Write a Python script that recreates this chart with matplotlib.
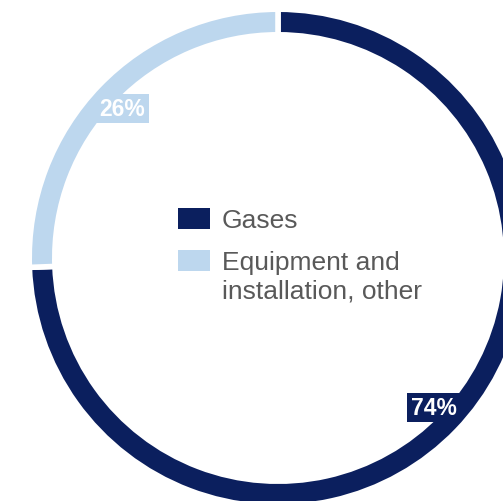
import matplotlib
matplotlib.use('Agg')
import matplotlib.pyplot as plt

# revenue split (values estimated from the ring, labels rounded)
labels = ['Gases', 'Equipment and\ninstallation, other']
shares = [74.4, 25.6]
colors = ['#0b1f5e', '#bdd7ee']

plt.rcParams['font.family'] = ['Liberation Sans', 'DejaVu Sans']

W, H = 503, 502
fig = plt.figure(figsize=(W / 100, H / 100), dpi=100)

# ring centre at (278, 259) px, outer radius 246 px -> runs past right/bottom edges
R = 246
ax = fig.add_axes([(278 - R) / W, (H - 259 - R) / H, 2 * R / W, 2 * R / H])

# white separators are strokes, so pad radius/width by half a stroke
lw = 4.0
half = lw / 72 * 100 / 2 / R
wedges, texts, autotexts = ax.pie(
    shares, colors=colors, startangle=90, counterclock=False,
    radius=1 + half, autopct='%.0f%%', pctdistance=0.868,
    wedgeprops=dict(width=20 / R + 2 * half, edgecolor='white', linewidth=lw),
    textprops=dict(color='white', fontsize=16.5, fontweight='bold'))

for t, c in zip(autotexts, colors):
    t.set_bbox(dict(boxstyle='square,pad=0.14', facecolor=c, edgecolor='none'))

ax.set_xlim(-1, 1)
ax.set_ylim(-1, 1)
ax.set_aspect('equal')
ax.axis('off')

leg = fig.legend(wedges, labels, loc='upper left',
                 bbox_to_anchor=(178 / W, 1 - 209 / H), bbox_transform=fig.transFigure,
                 frameon=False, fontsize=19, borderpad=0, borderaxespad=0,
                 handlelength=1.21, handleheight=0.83, handletextpad=0.45,
                 labelspacing=0.69)
for t in leg.get_texts():
    t.set_color('#595959')
    t.set_linespacing(1.25)
for h in leg.legend_handles:
    h.set_edgecolor('none')
    h.set_linewidth(0)
# handle sits next to the first line of a wrapped label
for col in leg._legend_handle_box.get_children():
    for row in col.get_children():
        row.align = 'top'

fig.savefig('out.png', dpi=100, facecolor='white')
